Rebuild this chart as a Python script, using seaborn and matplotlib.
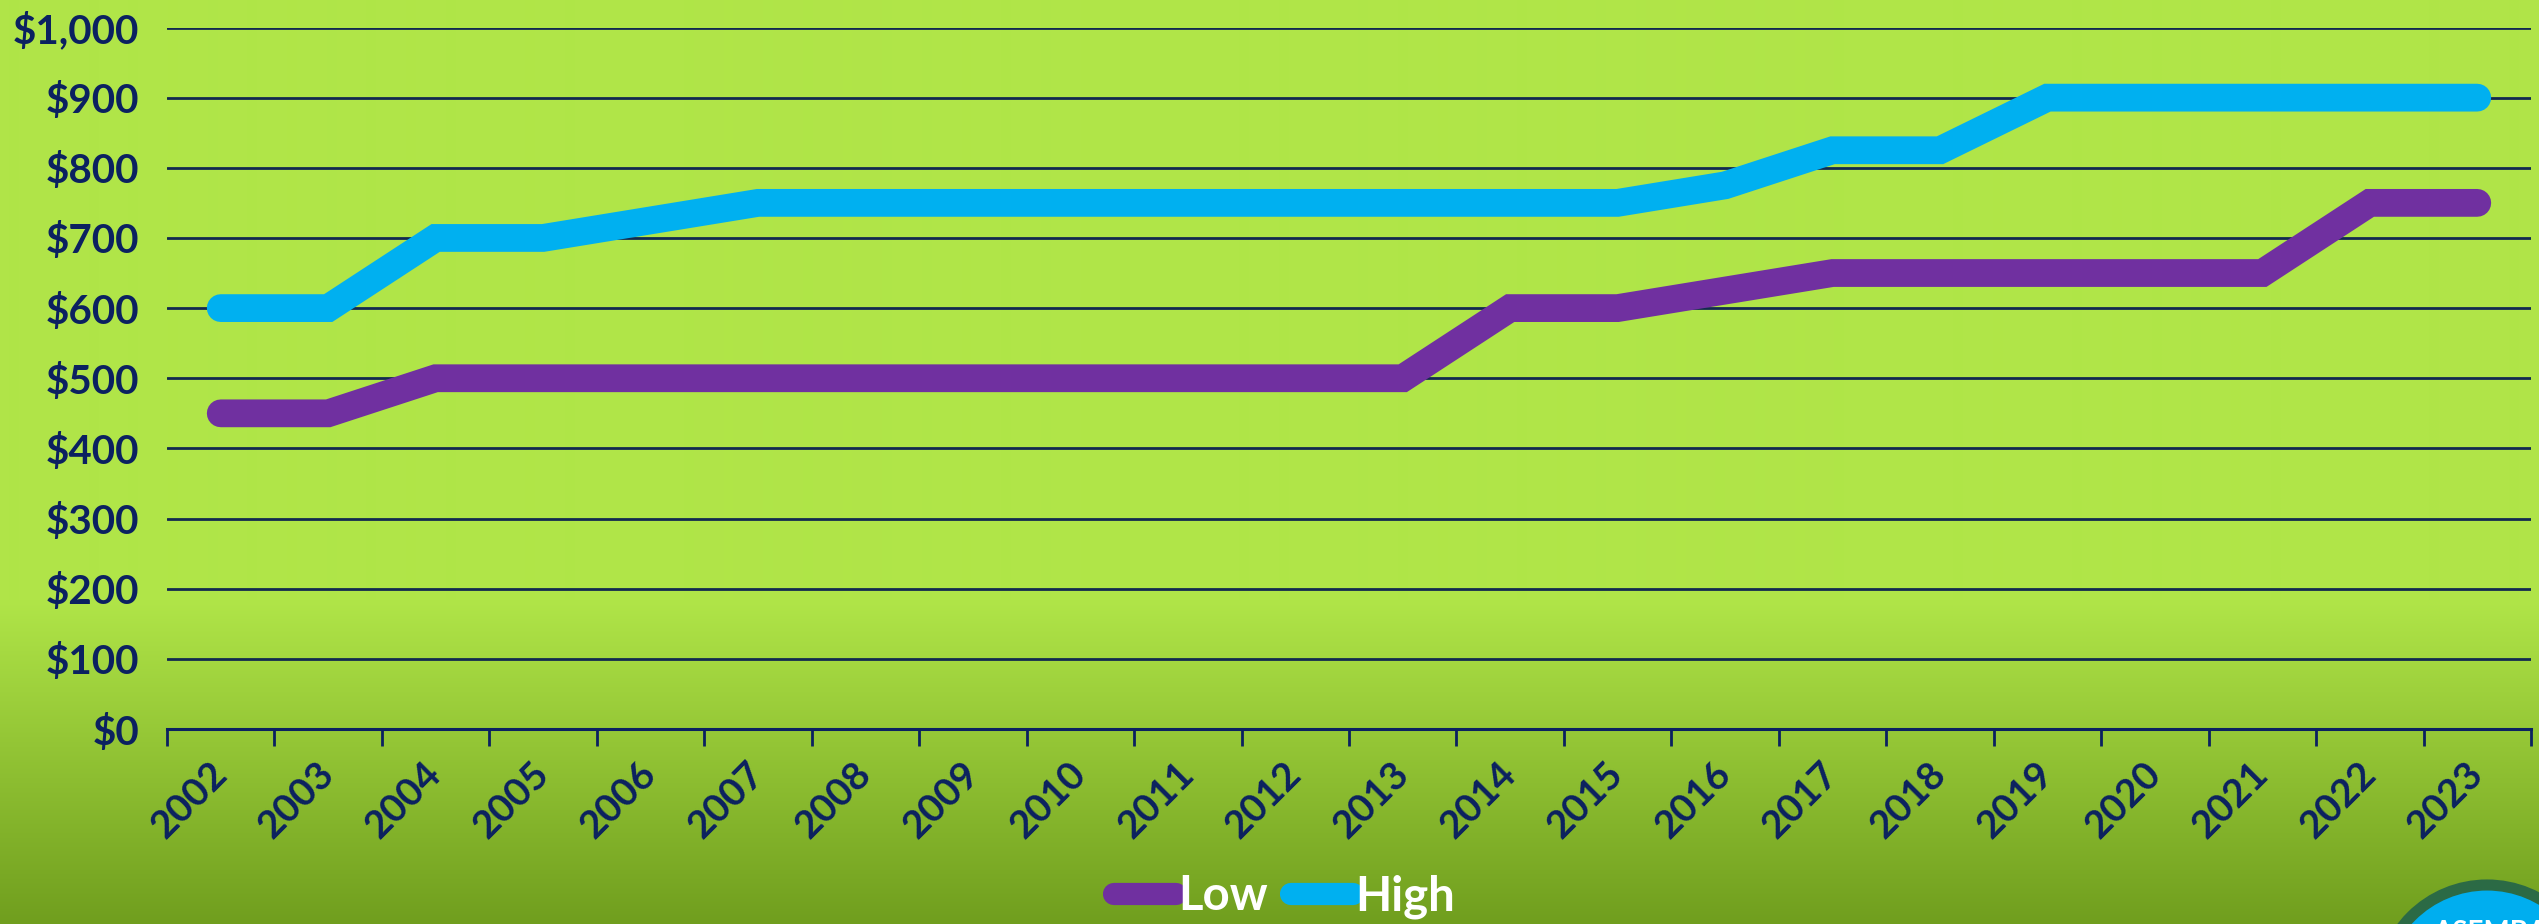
import numpy as np
import pandas as pd
import matplotlib
matplotlib.use("Agg")
import matplotlib.pyplot as plt
import seaborn as sns
from matplotlib.lines import Line2D
from matplotlib.patches import Circle
from matplotlib.transforms import IdentityTransform

# --- data -------------------------------------------------------------
years = [str(y) for y in range(2002, 2024)]
low = [450, 450, 500, 500, 500, 500, 500, 500, 500, 500, 500,
       500, 600, 600, 625, 650, 650, 650, 650, 650, 750, 750]
high = [600, 600, 700, 700, 725, 750, 750, 750, 750, 750, 750,
        750, 750, 750, 775, 825, 825, 900, 900, 900, 900, 900]
series_names = ["Low", "High"]
y_ticks = list(range(0, 1001, 100))

# --- styling ----------------------------------------------------------
NAVY = "#0B2160"
GRID = "#12294F"
palette = {"Low": "#7030A0", "High": "#00B0F0"}

sns.set_theme(style="white")
plt.rcParams["font.family"] = ["Lato", "DejaVu Sans"]

W, H = 2539, 924
fig = plt.figure(figsize=(W / 100, H / 100), dpi=100)

# background: flat light green fading into a darker green at the bottom
bg = fig.add_axes([0, 0, 1, 1], zorder=-10)
top_c = np.array([176, 229, 72]) / 255
bot_c = np.array([112, 158, 30]) / 255
rows = np.arange(H)
t = np.clip((rows - 600) / (H - 600), 0, 1)[:, None]
grad = (top_c * (1 - t) + bot_c * t)[:, None, :]
bg.imshow(grad, aspect="auto", extent=[0, 1, 0, 1], interpolation="bilinear")
bg.axis("off")

# plot area
left, right, bottom, top = 167, 2531, 729, 27.5
ax = fig.add_axes([left / W, 1 - bottom / H, (right - left) / W, (bottom - top) / H])
ax.patch.set_alpha(0)

df = pd.DataFrame({
    "idx": list(range(len(years))) * 2,
    "Price": low + high,
    "Series": ["Low"] * len(years) + ["High"] * len(years),
})

sns.lineplot(data=df, x="idx", y="Price", hue="Series", hue_order=series_names,
             palette=palette, linewidth=20, legend=False, ax=ax,
             solid_capstyle="round", solid_joinstyle="miter", zorder=3)

ax.set_xlim(-0.5, len(years) - 0.5)
ax.set_ylim(0, 1000)
ax.set_xlabel("")
ax.set_ylabel("")

# gridlines
ax.set_yticks(y_ticks)
ax.set_yticklabels([f"${v:,.0f}" for v in y_ticks])
ax.grid(axis="y", color=GRID, linewidth=2)
ax.grid(axis="x", visible=False)
ax.set_axisbelow(True)

for s in ["left", "right", "top"]:
    ax.spines[s].set_visible(False)
ax.spines["bottom"].set_color(NAVY)
ax.spines["bottom"].set_linewidth(2.2)
ax.spines["bottom"].set_zorder(2)

# x ticks: labels at category centres, tick marks at category boundaries
ax.set_xticks(range(len(years)))
ax.set_xticklabels(years)
ax.set_xticks(np.arange(-0.5, len(years), 1), minor=True)
ax.tick_params(axis="x", which="major", length=0, pad=28,
               labelsize=28, labelcolor=NAVY)
ax.tick_params(axis="x", which="minor", length=12, width=2, color=NAVY,
               direction="out", bottom=True)
ax.tick_params(axis="y", length=0, pad=20, labelsize=29, labelcolor=NAVY)

for lab in ax.get_xticklabels():
    lab.set_rotation(45)
    lab.set_ha("right")
    lab.set_va("center")
    lab.set_rotation_mode("anchor")
    lab.set_fontweight("bold")
for lab in ax.get_yticklabels():
    lab.set_fontweight("bold")

# legend
handles = [Line2D([0], [0], color=palette[n], lw=16, solid_capstyle="round")
           for n in series_names]
fig.legend(handles, series_names, loc="center", bbox_to_anchor=(0.506, 0.03),
           ncol=2, frameon=False, handlelength=1.3, handletextpad=0.05,
           columnspacing=0.5, prop={"weight": "bold", "size": 34},
           labelcolor="white")

# corner badge
badge = Circle((2487, H - 992), 107, transform=IdentityTransform(),
               facecolor="#00AEEF", edgecolor="#2B6A45", linewidth=8, zorder=5)
fig.add_artist(badge)
fig.text(2490, 4, "ASEMBA", transform=IdentityTransform(), ha="center",
         va="top", color="white", fontsize=20, fontweight="bold", zorder=6)

fig.savefig("out.png", dpi=100)
